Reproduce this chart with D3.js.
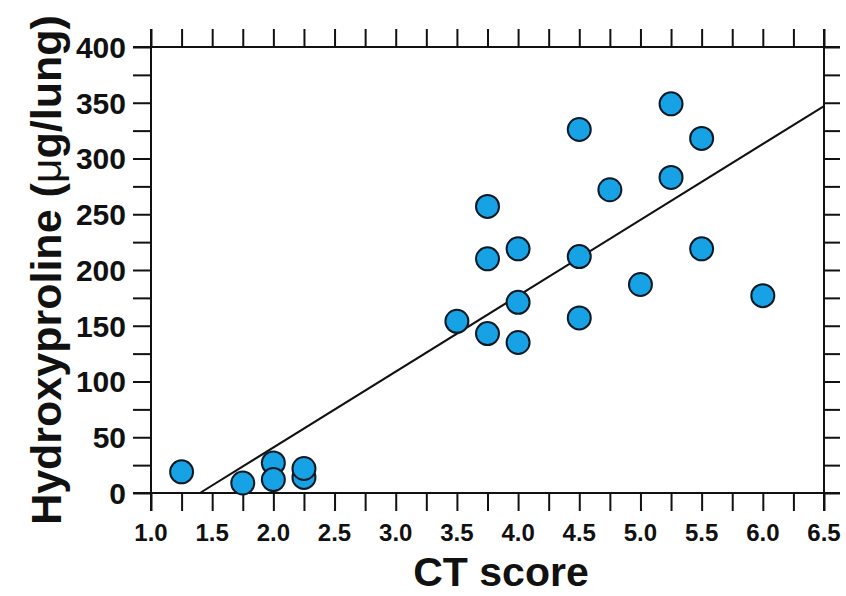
<!DOCTYPE html>
<html>
<head>
<meta charset="utf-8">
<script src="https://cdn.jsdelivr.net/npm/d3@7"></script>
<style>
  html, body { margin: 0; padding: 0; background: #fff; }
  svg { display: block; font-family: Arial, "Liberation Sans", sans-serif; }
</style>
</head>
<body>
<svg id="chart" width="846" height="596"></svg>
<script>
// ---- data ----
const ctScore = [1.25, 1.75, 2.0, 2.0, 2.25, 2.25, 3.5, 3.75, 3.75, 3.75, 4.0, 4.0, 4.0, 4.5, 4.5, 4.5, 4.75, 5.0, 5.25, 5.25, 5.5, 5.5, 6.0];
const hydroxyproline = [19, 9, 27, 12, 14, 22, 154, 257, 210, 143, 219, 171, 135, 326, 212, 157, 272, 187, 349, 283, 318, 219, 177];
const fitX = [1.4, 6.5];
const fitY = [0, 347];
const xTickLabels = ["1.0", "1.5", "2.0", "2.5", "3.0", "3.5", "4.0", "4.5", "5.0", "5.5", "6.0", "6.5"];
const yTickLabels = ["0", "50", "100", "150", "200", "250", "300", "350", "400"];
const xMinorTicks = d3.range(1.0, 6.5001, 0.25);
const yMinorTicks = d3.range(0, 400.001, 25);

// ---- layout ----
const svg = d3.select("#chart");
const L = 151, R = 824, T = 47, B = 493;
const x = d3.scaleLinear().domain([1.0, 6.5]).range([L, R]);
const y = d3.scaleLinear().domain([0, 400]).range([B, T]);
const tickLen = 18;

function styleAxis(g) {
  g.selectAll(".domain").remove();
  g.selectAll(".tick line").attr("stroke", "#111").attr("stroke-width", 2);
}

// bottom axis
const gB = svg.append("g").attr("transform", `translate(0,${B})`)
  .call(d3.axisBottom(x).tickValues(xMinorTicks).tickSize(tickLen).tickFormat(""));
styleAxis(gB);
// top axis
const gT = svg.append("g").attr("transform", `translate(0,${T})`)
  .call(d3.axisTop(x).tickValues(xMinorTicks).tickSize(tickLen).tickFormat(""));
styleAxis(gT);
// left axis
const gL = svg.append("g").attr("transform", `translate(${L},0)`)
  .call(d3.axisLeft(y).tickValues(yMinorTicks).tickSize(tickLen).tickFormat(""));
styleAxis(gL);
// right axis
const gR = svg.append("g").attr("transform", `translate(${R},0)`)
  .call(d3.axisRight(y).tickValues(yMinorTicks).tickSize(tickLen - 2).tickFormat(""));
styleAxis(gR);

// frame lines
const frame = svg.append("g").attr("stroke", "#111").attr("stroke-width", 2);
frame.append("line").attr("x1", L - tickLen).attr("x2", R + 16).attr("y1", B).attr("y2", B);
frame.append("line").attr("x1", L - tickLen).attr("x2", R + 16).attr("y1", T).attr("y2", T);
frame.append("line").attr("x1", L).attr("x2", L).attr("y1", T - tickLen).attr("y2", B + tickLen);
frame.append("line").attr("x1", R).attr("x2", R).attr("y1", T - tickLen).attr("y2", B + tickLen);

// tick labels
svg.append("g").selectAll("text").data(xTickLabels).join("text")
  .attr("x", d => x(+d))
  .attr("y", 541)
  .attr("text-anchor", "middle")
  .attr("font-size", 24).attr("font-weight", "bold").attr("fill", "#111")
  .text(d => d);

svg.append("g").selectAll("text").data(yTickLabels).join("text")
  .attr("x", 126)
  .attr("y", d => y(+d))
  .attr("dy", "0.36em")
  .attr("text-anchor", "end")
  .attr("font-size", 30).attr("font-weight", "bold").attr("fill", "#111")
  .text(d => d);

// regression line
svg.append("path")
  .datum(fitX.map((d, i) => [d, fitY[i]]))
  .attr("fill", "none").attr("stroke", "#111").attr("stroke-width", 2)
  .attr("d", d3.line().x(d => x(d[0])).y(d => y(d[1])));

// points
svg.append("g").selectAll("circle").data(ctScore.map((d, i) => [d, hydroxyproline[i]])).join("circle")
  .attr("cx", d => x(d[0]))
  .attr("cy", d => y(d[1]))
  .attr("r", 11.5)
  .attr("fill", "#17a2e6")
  .attr("stroke", "#0d1a24")
  .attr("stroke-width", 2);

// axis titles
svg.append("text")
  .attr("x", 501).attr("y", 586)
  .attr("text-anchor", "middle")
  .attr("font-size", 41).attr("font-weight", "bold").attr("fill", "#111")
  .text("CT score");

const yt = svg.append("text")
  .attr("transform", "translate(61,270) rotate(-90)")
  .attr("text-anchor", "middle")
  .attr("font-size", 43).attr("font-weight", "bold").attr("fill", "#111");
yt.append("tspan").text("Hydroxyproline (");
yt.append("tspan").attr("font-weight", "normal").text("μ");
yt.append("tspan").text("g/lung)");
</script>
</body>
</html>
